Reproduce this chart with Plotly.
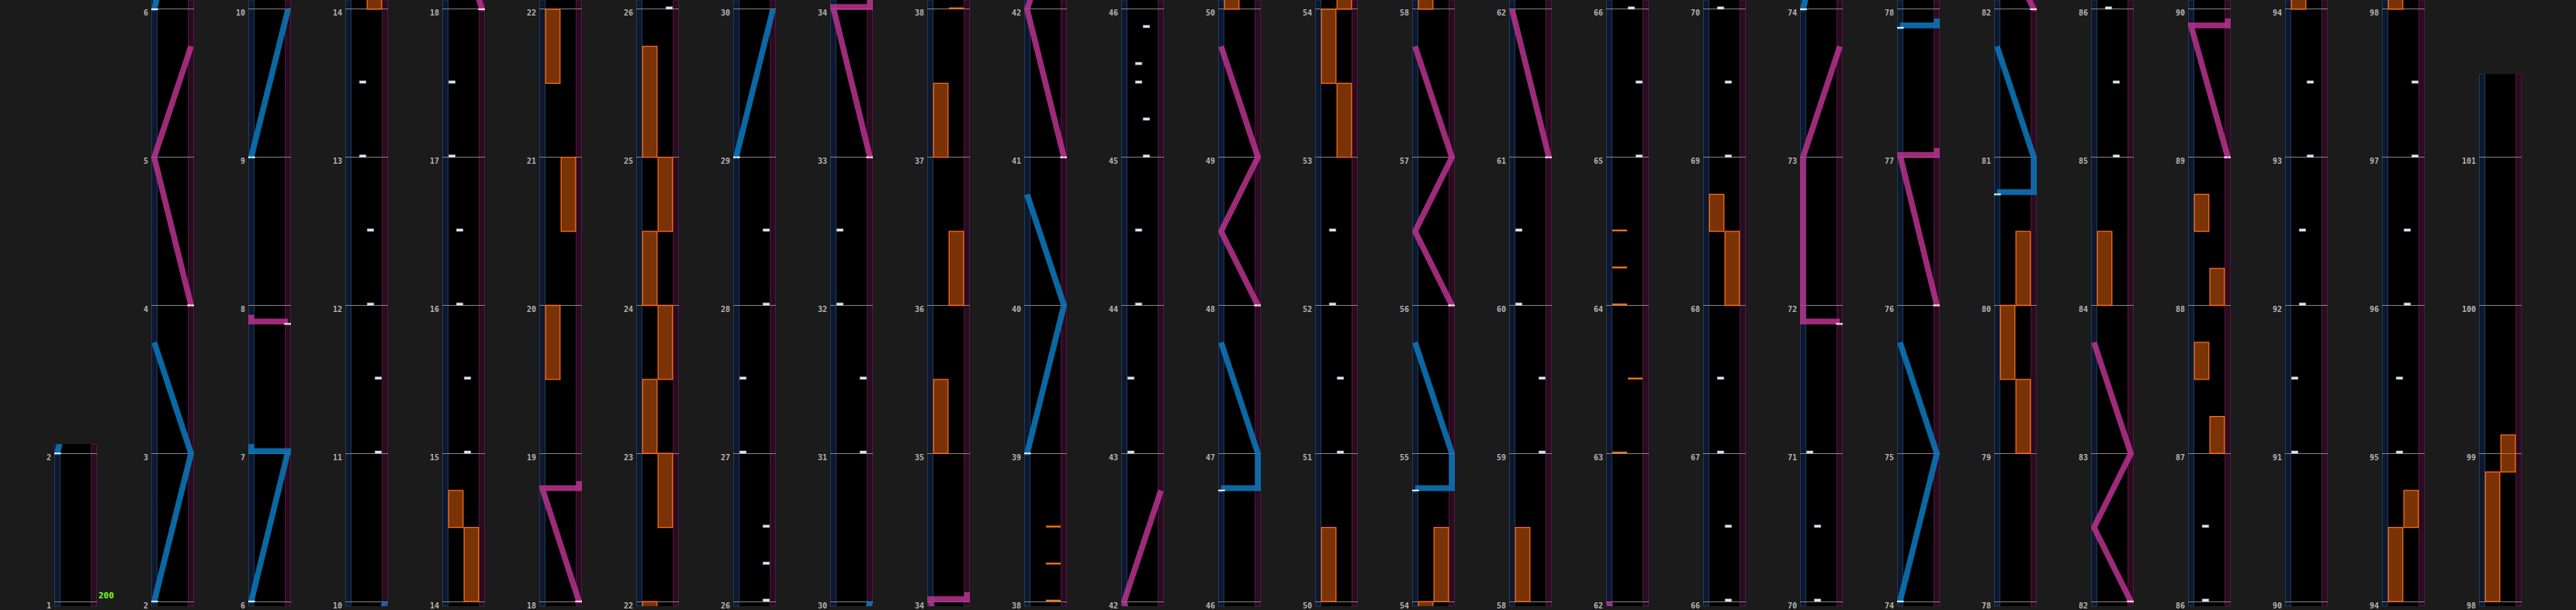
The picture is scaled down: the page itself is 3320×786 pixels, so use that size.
import math
import plotly.graph_objects as go

# ---------------- data ----------------
# columns of the chart (measure ranges shown in each column)
col_start = [1] + [4 * k - 2 for k in range(1, 26)]
col_end = [2] + [4 * k + 2 for k in range(1, 25)] + [101.5]

# BT chips: measure position and lane (0=A,1=B,2=C,3=D)
bt_time = [11.0, 11.5, 12.0, 12.5, 13.0, 13.5,
           15.0, 15.5, 16.0, 16.5, 17.0, 17.5,
           26.0, 26.25, 26.5, 27.0, 27.5, 28.0, 28.5,
           31.0, 31.5, 32.0, 32.5,
           43.0, 43.5, 44.0, 44.5, 45.0, 45.25, 45.5, 45.625, 45.875,
           51.0, 51.5, 52.0, 52.5,
           59.0, 59.5, 60.0, 60.5,
           65.0, 65.5, 66.0, 66.5, 67.0, 67.5,
           69.0, 69.5, 70.0, 70.5, 71.0,
           85.0, 85.5, 86.0, 86.5,
           91.0, 91.5, 92.0, 92.5, 93.0, 93.5,
           95.0, 95.5, 96.0, 96.5, 97.0, 97.5]
bt_lane = [3, 3, 2, 2, 1, 1,
           2, 2, 1, 1, 0, 0,
           3, 3, 3, 0, 0, 3, 3,
           3, 3, 0, 0,
           0, 0, 1, 1, 2, 2, 1, 1, 2,
           2, 2, 1, 1,
           3, 3, 0, 0,
           3, 3, 2, 2, 1, 1,
           2, 2, 1, 1, 0,
           2, 2, 1, 1,
           0, 0, 1, 1, 2, 2,
           1, 1, 2, 2, 3, 3]

# FX chips
fxc_time = [38.0, 38.25, 38.5, 63.0, 63.5, 64.0, 64.25, 64.5]
fxc_side = ["R", "R", "R", "L", "R", "L", "L", "L"]

# FX holds
fx_start = [14.0, 14.5, 19.5, 20.5, 21.5, 22.5, 23.0, 23.5, 24.0, 24.5, 25.0,
            35.0, 36.0, 37.0, 50.0, 53.0, 53.5, 54.0, 58.0, 68.0, 68.5,
            79.0, 79.5, 80.0, 84.0, 87.0, 87.5, 88.0, 88.5, 94.0, 94.5, 98.0, 98.875]
fx_end = [14.5, 14.75, 20.0, 21.0, 22.0, 23.0, 23.5, 24.0, 24.5, 25.0, 25.75,
          35.5, 36.5, 37.5, 50.5, 53.5, 54.0, 54.5, 58.5, 68.5, 68.75,
          79.5, 80.0, 80.5, 84.5, 87.25, 87.75, 88.25, 88.75, 94.5, 94.75, 98.875, 99.125]
fx_side = ["R", "L", "L", "R", "L", "R", "L", "R", "L", "R", "L",
           "L", "R", "L", "L", "R", "L", "R", "L", "R", "L",
           "R", "L", "R", "L", "R", "L", "R", "L", "L", "R", "L", "R"]

# Lasers: per segment, measure positions and knob positions (0=left, 1=right)
left_laser_t = [[2, 3, 3.75], [6, 7, 7], [9, 10], [29, 30], [39, 40, 40.75],
                [46.75, 46.75, 47, 47.75], [54.75, 54.75, 55, 55.75],
                [74, 75, 75.75], [77.875, 77.875], [80.75, 80.75, 81, 81.75]]
left_laser_p = [[0, 1, 0], [0, 1, 0], [0, 1], [0, 1], [0, 1, 0],
                [0, 1, 1, 0], [0, 1, 1, 0],
                [0, 1, 0], [0, 1], [0, 1, 1, 0]]
right_laser_t = [[4, 5, 5.75], [7.875, 7.875], [18, 18.75, 18.75], [33, 34, 34],
                 [41, 42, 42.75], [48, 48.5, 49, 49.75], [56, 56.5, 57, 57.75],
                 [61, 62], [71.875, 71.875, 73, 73.75], [76, 77, 77],
                 [82, 82.5, 83, 83.75], [89, 89.875, 89.875]]
right_laser_p = [[1, 0, 1], [1, 0], [1, 0, 1], [1, 0, 1],
                 [1, 0, 1], [1, 0, 1, 0], [1, 0, 1, 0],
                 [1, 0], [1, 0, 0, 1], [1, 0, 1],
                 [1, 0, 1, 0], [1, 0, 1]]

bpm_value = "200"
bpm_measure = 1

# ---------------- geometry / style ----------------
W, H = 3320, 786
PXM = 192.0            # pixels per measure
BOT_PAD = 6 / PXM
TOP_PAD = 12 / PXM
COL_X0 = 70
COL_STEP = 125
PANEL_W = 55
STRIP_W = 7.5
SLAM_LIFT = 3 / PXM
TAIL = 12 / PXM

BG = "#1b1b1b"
BLUE = "rgba(12,122,190,0.85)"
MAG = "rgba(192,52,148,0.82)"
BLUE_SOLID = "#1a7fc0"
MAG_SOLID = "#c0389a"


def lx(p):
    return -STRIP_W / 20 + p * (4 + STRIP_W / 10)


def laser_xy(seg_t, seg_p):
    xs, ys = [], []
    for ts, ps in zip(seg_t, seg_p):
        n = len(ts)
        for i, (t, p) in enumerate(zip(ts, ps)):
            slam = (i + 1 < n and ts[i + 1] == t) or (i > 0 and ts[i - 1] == t)
            xs.append(lx(p))
            ys.append(t + (SLAM_LIFT if slam else 0))
        if n >= 2 and ts[-1] == ts[-2]:
            xs.append(lx(ps[-1]))
            ys.append(ts[-1] + TAIL)
        xs.append(None)
        ys.append(None)
    return xs, ys


blue_x, blue_y = laser_xy(left_laser_t, left_laser_p)
mag_x, mag_y = laser_xy(right_laser_t, right_laser_p)
start_x = [lx(p[0]) for p in left_laser_p] + [lx(p[0]) for p in right_laser_p]
start_y = [t[0] for t in left_laser_t] + [t[0] for t in right_laser_t]
start_c = [BLUE_SOLID] * len(left_laser_t) + [MAG_SOLID] * len(right_laser_t)

fig = go.Figure()
layout = dict(
    width=W, height=H, margin=dict(l=0, r=0, t=0, b=0),
    paper_bgcolor=BG, plot_bgcolor="rgba(0,0,0,0)",
    barmode="overlay", showlegend=False, shapes=[], annotations=[],
)

NC = len(col_start)
for k in range(NC):
    s, e = col_start[k], col_end[k]
    left = COL_X0 + COL_STEP * k
    ytop = ((e - s) * PXM + 18) / H
    yrange = [s - BOT_PAD, e + TOP_PAD]

    # panel background & strips (paper shapes, below everything)
    layout["shapes"].append(dict(type="rect", xref="paper", yref="paper", layer="below",
                                 x0=left / W, x1=(left + PANEL_W) / W, y0=0, y1=ytop,
                                 fillcolor="#000000", line=dict(width=0)))
    layout["shapes"].append(dict(type="rect", xref="paper", yref="paper", layer="below",
                                 x0=(left + 0.5) / W, x1=(left + STRIP_W) / W, y0=0, y1=ytop,
                                 fillcolor="#0d1830", line=dict(color="#1f3b58", width=1)))
    layout["shapes"].append(dict(type="rect", xref="paper", yref="paper", layer="below",
                                 x0=(left + PANEL_W - STRIP_W) / W, x1=(left + PANEL_W - 0.5) / W,
                                 y0=0, y1=ytop,
                                 fillcolor="#2a0b20", line=dict(color="#4e1940", width=1)))

    # subplot A: BT lane grid (beats + lane dividers)
    a = k + 1
    ak = "" if a == 1 else str(a)
    layout["xaxis" + ak] = dict(domain=[(left + STRIP_W) / W, (left + PANEL_W - STRIP_W) / W],
                                range=[0, 4], anchor="y" + ak, tickmode="array",
                                tickvals=[1, 2, 3], showticklabels=False, ticks="",
                                showgrid=True, gridcolor="#303030", gridwidth=1,
                                zeroline=False, showline=False, fixedrange=True)
    layout["yaxis" + ak] = dict(domain=[0, ytop], range=yrange, anchor="x" + ak,
                                tickmode="linear", tick0=0, dtick=0.25,
                                showticklabels=False, ticks="", showgrid=True,
                                gridcolor="#303030", gridwidth=1, zeroline=False,
                                showline=False, fixedrange=True)

    # subplot B: full panel, measure lines, labels, notes
    b = k + 1 + NC
    bk = str(b)
    xa, ya = "x" + bk, "y" + bk
    layout["xaxis" + bk] = dict(domain=[left / W, (left + PANEL_W) / W],
                                range=[-STRIP_W / 10, 4 + STRIP_W / 10], anchor=ya,
                                showticklabels=False, ticks="", showgrid=False,
                                zeroline=False, showline=False, fixedrange=True)
    layout["yaxis" + bk] = dict(domain=[0, ytop], range=yrange, anchor=xa,
                                tickmode="linear", tick0=0, dtick=1,
                                showgrid=True, gridcolor="#858585", gridwidth=1,
                                zeroline=False, showline=False, ticks="",
                                ticklabelstandoff=3, ticklabelshift=5,
                                ticklabeloverflow="allow",
                                tickfont=dict(family="DejaVu Sans Mono", size=10,
                                              color="#b4b4b4", weight="bold"),
                                fixedrange=True)

    lo, hi = yrange

    # FX holds
    fx_idx = [i for i in range(len(fx_start)) if fx_end[i] > lo - 0.1 and fx_start[i] < hi + 0.1]
    fig.add_trace(go.Bar(
        x=[1 if fx_side[i] == "L" else 3 for i in fx_idx],
        y=[fx_end[i] - fx_start[i] for i in fx_idx], base=[fx_start[i] for i in fx_idx],
        width=1.86, marker=dict(color="rgba(232,98,12,0.52)",
                                line=dict(color="#ff6c12", width=1.3)),
        xaxis=xa, yaxis=ya, hoverinfo="skip"))
    # FX chips
    fc_idx = [i for i in range(len(fxc_time)) if lo - 0.1 < fxc_time[i] < hi + 0.1]
    fig.add_trace(go.Bar(
        x=[1 if fxc_side[i] == "L" else 3 for i in fc_idx],
        y=[0.012] * len(fc_idx), base=[fxc_time[i] for i in fc_idx], width=1.9,
        marker=dict(color="#ff7800", line=dict(width=0)),
        xaxis=xa, yaxis=ya, hoverinfo="skip"))
    # BT chips
    bt_idx = [i for i in range(len(bt_time)) if lo - 0.1 < bt_time[i] < hi + 0.1]
    fig.add_trace(go.Bar(
        x=[bt_lane[i] + 0.5 for i in bt_idx], y=[0.017] * len(bt_idx),
        base=[bt_time[i] for i in bt_idx],
        width=0.84, marker=dict(color="#e2eaf0", line=dict(color="#9fb0bc", width=0.5)),
        xaxis=xa, yaxis=ya, hoverinfo="skip"))
    # lasers
    fig.add_trace(go.Scatter(x=blue_x, y=blue_y, mode="lines",
                             line=dict(color=BLUE, width=7.5),
                             xaxis=xa, yaxis=ya, hoverinfo="skip"))
    fig.add_trace(go.Scatter(x=mag_x, y=mag_y, mode="lines",
                             line=dict(color=MAG, width=7.5),
                             xaxis=xa, yaxis=ya, hoverinfo="skip"))
    # laser start markers (only those inside this column)
    st_idx = [i for i in range(len(start_y)) if lo + 0.03 < start_y[i] < hi]
    if st_idx:
        fig.add_trace(go.Scatter(x=[start_x[i] for i in st_idx], y=[start_y[i] for i in st_idx],
                                 mode="markers",
                                 marker=dict(symbol="line-ew", size=7,
                                             line=dict(color="#ffffff", width=2)),
                                 xaxis=xa, yaxis=ya, hoverinfo="skip"))
        fig.add_trace(go.Scatter(x=[start_x[i] for i in st_idx], y=[start_y[i] for i in st_idx],
                                 mode="text", text=["^"] * len(st_idx),
                                 textposition="bottom center",
                                 textfont=dict(family="DejaVu Sans Mono", size=9,
                                               color=[start_c[i] for i in st_idx]),
                                 xaxis=xa, yaxis=ya, hoverinfo="skip"))

    if k == 0:
        layout["annotations"].append(dict(
            x=4 + STRIP_W / 10, y=bpm_measure, xref=xa, yref=ya, text=bpm_value,
            showarrow=False, xanchor="left", yanchor="bottom", xshift=0, yshift=-1,
            font=dict(family="DejaVu Sans Mono", size=11, color="#7dff12", weight="bold")))

fig.update_layout(**layout)
fig.write_html(
    "out.html",
    config={"displayModeBar": False},
    post_script="document.body.style.margin='0px';"
                "document.body.style.background='#1b1b1b';"
                "document.body.style.overflow='hidden';",
)
